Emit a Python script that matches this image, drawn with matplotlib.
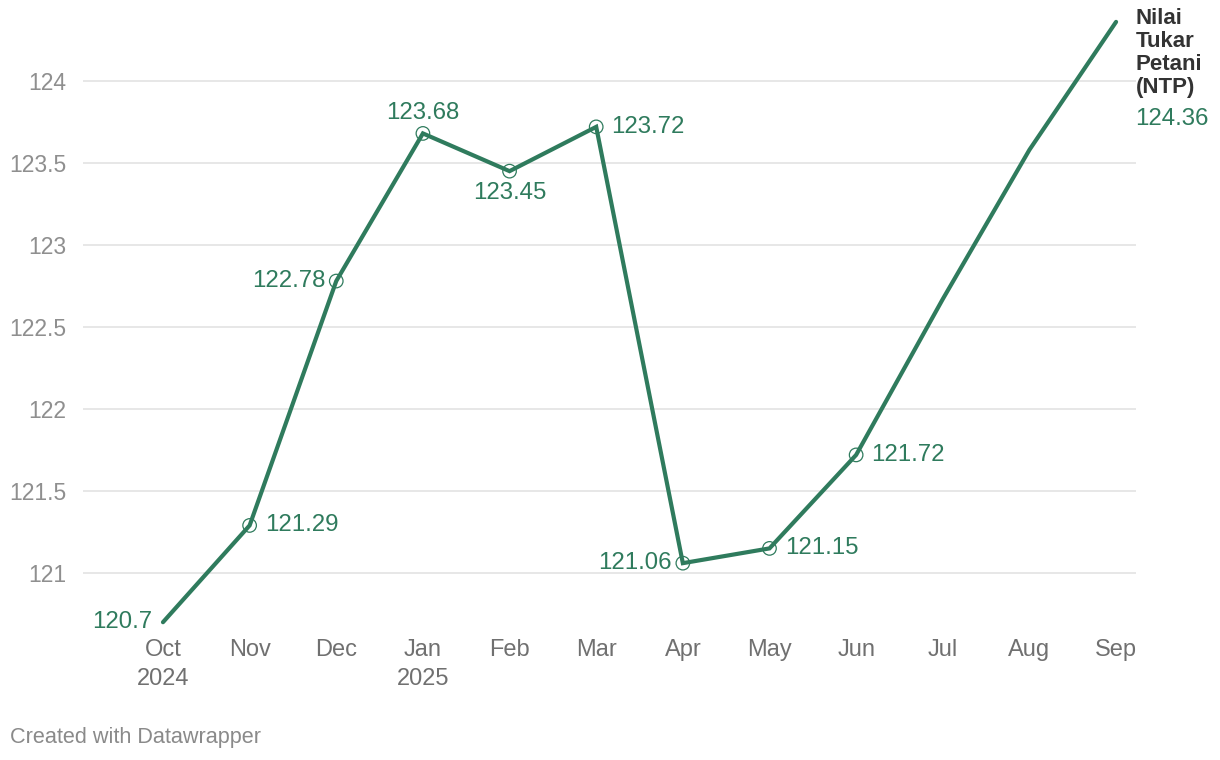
import matplotlib
matplotlib.use("Agg")
import matplotlib.pyplot as plt

months = ["Oct", "Nov", "Dec", "Jan", "Feb", "Mar", "Apr", "May", "Jun", "Jul", "Aug", "Sep"]
tick_labels = ["Oct\n2024", "Nov", "Dec", "Jan\n2025", "Feb", "Mar", "Apr", "May", "Jun", "Jul", "Aug", "Sep"]
ntp = [120.70, 121.29, 122.78, 123.68, 123.45, 123.72, 121.06, 121.15, 121.72, 122.67, 123.58, 124.36]
labels = ["120.7", "121.29", "122.78", "123.68", "123.45", "123.72", "121.06", "121.15", "121.72", None, None, None]
label_pos = ["left", "right", "left", "above", "below", "right", "left", "right", "right", None, None, None]
has_marker = [False, True, True, True, True, True, True, True, True, False, False, False]
yticks = [121, 121.5, 122, 122.5, 123, 123.5, 124]
ytick_labels = ["121", "121.5", "122", "122.5", "123", "123.5", "124"]
series_name = "Nilai\nTukar\nPetani\n(NTP)"

GREEN = "#2f7b5d"
GRID = "#e3e3e3"
TICK = "#8f8f8f"
XTICK = "#707070"

plt.rcParams["font.family"] = ["Liberation Sans", "DejaVu Sans"]

W, H = 1220, 760
fig = plt.figure(figsize=(W / 100, H / 100), dpi=100)
left_px, right_px, top_px, bot_px = 83, 1136, 15, 625
ax = fig.add_axes([left_px / W, 1 - bot_px / H, (right_px - left_px) / W, (bot_px - top_px) / H])

x = list(range(len(months)))
ax.set_xlim(-0.923, 11.23)
ax.set_ylim(120.683, 124.402)

for yt in yticks:
    ax.axhline(yt, color=GRID, lw=1.2, zorder=0)

ax.plot(x, ntp, color=GREEN, lw=3, solid_capstyle="round", solid_joinstyle="miter", zorder=3)
mx = [xi for xi, m in zip(x, has_marker) if m]
my = [yi for yi, m in zip(ntp, has_marker) if m]
ax.scatter(mx, my, s=95, facecolors="none", edgecolors=GREEN, linewidths=0.9, zorder=4)

fs = 17.3
for xi, yi, lab, pos in zip(x, ntp, labels, label_pos):
    if lab is None:
        continue
    if pos == "left":
        ax.annotate(lab, (xi, yi), xytext=(-8, 0), textcoords="offset points",
                    ha="right", va="center", color=GREEN, fontsize=fs)
    elif pos == "right":
        ax.annotate(lab, (xi, yi), xytext=(11, 0), textcoords="offset points",
                    ha="left", va="center", color=GREEN, fontsize=fs)
    elif pos == "above":
        ax.annotate(lab, (xi, yi), xytext=(0, 7), textcoords="offset points",
                    ha="center", va="bottom", color=GREEN, fontsize=fs)
    elif pos == "below":
        ax.annotate(lab, (xi, yi), xytext=(0, -8), textcoords="offset points",
                    ha="center", va="top", color=GREEN, fontsize=fs)

# series label at end
ax.annotate(series_name, (x[-1], ntp[-1]), xytext=(14, 10), textcoords="offset points",
            ha="left", va="top", color="#333333", fontsize=16, fontweight="bold",
            linespacing=1.12, annotation_clip=False)
ax.annotate(f"{ntp[-1]:.2f}", (x[-1], ntp[-1]), xytext=(14, -62), textcoords="offset points",
            ha="left", va="top", color=GREEN, fontsize=fs, annotation_clip=False)

ax.set_xticks(x)
ax.set_xticklabels(tick_labels, color=XTICK, fontsize=17, linespacing=1.4)
ax.set_yticks(yticks)
ax.set_yticklabels(ytick_labels, color=TICK, fontsize=16.5)
ax.tick_params(axis="both", length=0)
ax.tick_params(axis="x", pad=10)
ax.tick_params(axis="y", pad=12)
for s in ax.spines.values():
    s.set_visible(False)
ax.set_facecolor("none")

fig.text(10 / W, 1 - 737 / H, "Created with Datawrapper", color="#8a8a8a", fontsize=15.6,
         ha="left", va="center")

fig.savefig("out.png", dpi=100, facecolor="white")
